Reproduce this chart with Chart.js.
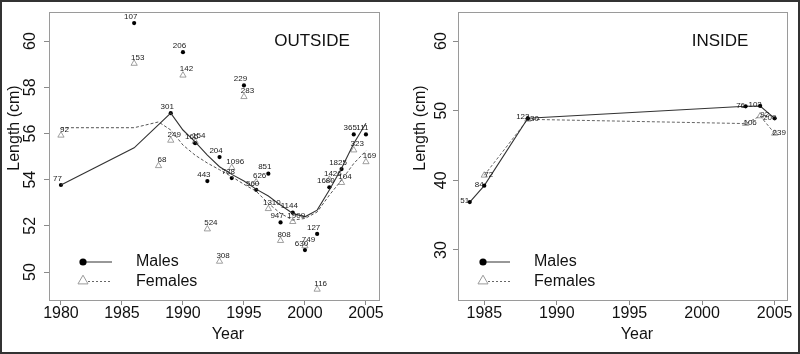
<!DOCTYPE html>
<html><head><meta charset="utf-8">
<script src="https://cdn.jsdelivr.net/npm/chart.js@4.4.0/dist/chart.umd.min.js"></script>
<style>
html,body{margin:0;padding:0;background:#fff;}
#wrap{position:relative;width:800px;height:354px;overflow:hidden;background:#fff;}
#frame{position:absolute;left:0;top:0;width:796px;height:350px;border:2px solid #333;pointer-events:none;}
canvas{position:absolute;top:0;}
</style></head><body>
<div id="wrap">
<canvas id="c1" width="400" height="354" style="left:0;width:400px;height:354px"></canvas>
<canvas id="c2" width="400" height="354" style="left:400px;width:400px;height:354px"></canvas>
<div id="frame"></div>
</div>
<script>
// ---------- OUTSIDE panel data ----------
const outMaleYears = [1980,1986,1989,1990,1991,1992,1993,1994,1995,1996,1997,1998,1999,2000,2001,2002,2003,2004,2005];
const outMaleLen   = [53.77,60.78,56.88,59.52,55.58,53.94,54.98,54.07,58.08,53.56,54.26,52.15,52.57,50.95,51.65,53.67,54.46,55.96,55.96];
const outMaleN     = ['77','107','301','206','165','443','204','788','229','560','851','947','1144','630','127','1680','1825','365','111'];

const outFemYears  = [1980,1986,1988,1989,1990,1991,1992,1993,1994,1995,1996,1997,1998,1999,2000,2001,2002,2003,2004,2005];
const outFemLen    = [55.92,59.03,54.60,55.70,58.52,55.65,51.86,50.46,54.52,57.59,53.90,52.74,51.36,52.18,51.13,49.25,54.01,53.87,55.28,54.77];
const outFemN      = ['92','153','68','249','142','154','524','308','1096','283','626','1310','808','1909','749','116','1426','104','323','169'];

const outMaleFitYears = [1980,1986,1989,1990,1991,1992,1993,1994,1995,1996,1997,1998,1999,2000,2001,2002,2003,2004,2005];
const outMaleFit      = [53.77,55.38,56.88,56.15,55.64,55.06,54.56,54.23,53.94,53.59,53.29,52.90,52.54,52.39,52.68,53.55,54.49,55.57,56.44];
const outFemFitYears  = [1980,1986,1988,1989,1990,1991,1992,1993,1994,1995,1996,1997,1998,1999,2000,2001,2002,2003,2004,2005];
const outFemFit       = [56.25,56.25,56.50,56.15,55.50,55.06,54.72,54.43,54.13,53.80,53.50,52.97,52.54,52.25,52.32,52.60,53.33,53.98,54.70,55.25];

const outXTicks = [1980,1985,1990,1995,2000,2005];
const outYTicks = [50,52,54,56,58,60];

// ---------- INSIDE panel data ----------
const inMaleYears = [1984,1985,1988,2003,2004,2005];
const inMaleLen   = [36.88,39.24,48.91,50.63,50.68,48.90];
const inMaleN     = ['51','84','122','76','102','209'];
const inFemYears  = [1985,1988,2003,2004,2005];
const inFemLen    = [40.72,48.76,48.15,49.24,46.74];
const inFemN      = ['72','130','106','92','239'];

const inXTicks = [1985,1990,1995,2000,2005];
const inYTicks = [30,40,50,60];

const seriesNames = ['Males','Females'];
const axisTitles = {x:'Year', y:'Length (cm)'};

const FONT = "'Liberation Sans', Arial, sans-serif";
const pts = (xs, ys) => xs.map((x,i)=>({x:x, y:ys[i]}));

function panelPlugin(p){
  return {
    id:'panel'+p.key,
    afterDatasetsDraw(chart){
      const ctx = chart.ctx;
      chart.data.datasets.forEach((ds, di)=>{
        if(!ds.pointLabels) return;
        const meta = chart.getDatasetMeta(di);
        ctx.save();
        ctx.font = '8px ' + FONT;
        ctx.fillStyle = '#1a1a1a';
        ctx.textAlign = 'center';
        ctx.textBaseline = 'middle';
        meta.data.forEach((el, j)=>{
          ctx.fillText(ds.pointLabels[j], el.x + ds.labelDx, el.y + ds.labelDy);
        });
        ctx.restore();
      });
    },
    afterDraw(chart){
      const ctx = chart.ctx, a = chart.chartArea, xs = chart.scales.x, ys = chart.scales.y;
      ctx.save();
      ctx.strokeStyle = '#9a9a9a'; ctx.lineWidth = 1;
      ctx.strokeRect(Math.round(a.left)+0.5, Math.round(a.top)+0.5, Math.round(a.right-a.left), Math.round(a.bottom-a.top));
      ctx.fillStyle = '#111';
      ctx.font = '16px ' + FONT;
      ctx.textAlign = 'center'; ctx.textBaseline = 'middle';
      p.xTicks.forEach(v=>{ ctx.fillText(String(v), xs.getPixelForValue(v), 314); });
      p.yTicks.forEach(v=>{
        ctx.save();
        ctx.translate(p.yLabelX, ys.getPixelForValue(v));
        ctx.rotate(-Math.PI/2);
        ctx.fillText(String(v), 0, 0);
        ctx.restore();
      });
      ctx.fillText(axisTitles.x, p.xTitleX, 335);
      ctx.save();
      ctx.translate(p.yTitleX, 128);
      ctx.rotate(-Math.PI/2);
      ctx.fillText(axisTitles.y, 0, 0);
      ctx.restore();
      ctx.font = '17px ' + FONT;
      ctx.fillText(p.title, p.titleX, 41);
      // legend
      ctx.strokeStyle = '#444'; ctx.lineWidth = 1.1; ctx.setLineDash([]);
      ctx.beginPath(); ctx.moveTo(p.legX+2, 262); ctx.lineTo(p.legLineEnd, 262); ctx.stroke();
      ctx.fillStyle = '#000';
      ctx.beginPath(); ctx.arc(p.legX, 262, 3.6, 0, Math.PI*2); ctx.fill();
      ctx.strokeStyle = '#666'; ctx.lineWidth = 1; ctx.setLineDash([2,2]);
      ctx.beginPath(); ctx.moveTo(p.legX+5, 281.5); ctx.lineTo(p.legLineEnd, 281.5); ctx.stroke();
      ctx.setLineDash([]);
      ctx.strokeStyle = '#999';
      const r = 5.8, cx = p.legX, cy = 281;
      ctx.beginPath();
      ctx.moveTo(cx, cy - r);
      ctx.lineTo(cx + r*0.866, cy + r*0.5);
      ctx.lineTo(cx - r*0.866, cy + r*0.5);
      ctx.closePath(); ctx.stroke();
      ctx.fillStyle = '#111';
      ctx.font = '16px ' + FONT; ctx.textAlign = 'left';
      ctx.fillText(seriesNames[0], p.legTextX, 262);
      ctx.fillText(seriesNames[1], p.legTextX, 282);
      ctx.restore();
    }
  };
}

function scalesFor(p){
  const grid = {drawOnChartArea:false, drawTicks:true, tickLength:5, color:'#8a8a8a'};
  return {
    x:{type:'linear', min:p.xMin, max:p.xMax,
       afterBuildTicks:s=>{ s.ticks = p.xTicks.map(v=>({value:v})); },
       ticks:{display:false}, grid:grid, border:{display:true, color:'#9a9a9a'},
       afterFit:s=>{ s.height = 54; }},
    y:{type:'linear', min:p.yMin, max:p.yMax,
       afterBuildTicks:s=>{ s.ticks = p.yTicks.map(v=>({value:v})); },
       ticks:{display:false}, grid:grid, border:{display:true, color:'#9a9a9a'},
       afterFit:s=>{ s.width = p.yAxisW; }}
  };
}

const baseOpts = (p)=>({
  responsive:false, animation:false, devicePixelRatio:1,
  layout:{padding:{top:12, right:p.padRight, left:0, bottom:0}},
  plugins:{legend:{display:false}, tooltip:{enabled:false}},
  scales:scalesFor(p)
});

const pOut = {key:'out', xMin:1979.02, xMax:2006.07, yMin:48.79, yMax:61.26,
  xTicks:outXTicks, yTicks:outYTicks, yAxisW:49, padRight:21,
  yLabelX:31, yTitleX:15, xTitleX:228, title:'OUTSIDE', titleX:312,
  legX:83, legLineEnd:112, legTextX:136};
new Chart(document.getElementById('c1'), {
  type:'scatter',
  data:{datasets:[
    {data:pts(outMaleFitYears,outMaleFit), showLine:true, pointRadius:0, borderColor:'#333', borderWidth:1.1, fill:false},
    {data:pts(outFemFitYears,outFemFit), showLine:true, pointRadius:0, borderColor:'#555', borderWidth:1, borderDash:[3,2], fill:false},
    {data:pts(outMaleYears,outMaleLen), pointStyle:'circle', pointRadius:2.1, backgroundColor:'#000', borderWidth:0,
     pointLabels:outMaleN, labelDx:-3.5, labelDy:-6.5},
    {data:pts(outFemYears,outFemLen), pointStyle:'triangle', pointRadius:3.6, backgroundColor:'rgba(255,255,255,0)', borderColor:'#888', borderWidth:0.8,
     pointLabels:outFemN, labelDx:3.5, labelDy:-6}
  ]},
  options:baseOpts(pOut),
  plugins:[panelPlugin(pOut)]
});

const pIn = {key:'in', xMin:1983.19, xMax:2005.85, yMin:22.82, yMax:64.17,
  xTicks:inXTicks, yTicks:inYTicks, yAxisW:58, padRight:13,
  yLabelX:42, yTitleX:21, xTitleX:237, title:'INSIDE', titleX:320,
  legX:83, legLineEnd:110, legTextX:134};
new Chart(document.getElementById('c2'), {
  type:'scatter',
  data:{datasets:[
    {data:pts(inMaleYears,inMaleLen), showLine:true, pointStyle:'circle', pointRadius:2.1, backgroundColor:'#000', borderColor:'#333', borderWidth:1.1,
     pointBorderWidth:0, pointLabels:inMaleN, labelDx:-5, labelDy:-1},
    {data:pts(inFemYears,inFemLen), showLine:true, pointStyle:'triangle', pointRadius:3.6, backgroundColor:'rgba(255,255,255,0)', borderColor:'#666', borderWidth:1, borderDash:[3,2],
     pointBorderColor:'#888', pointBorderWidth:0.8, pointLabels:inFemN, labelDx:4.5, labelDy:-1}
  ]},
  options:baseOpts(pIn),
  plugins:[panelPlugin(pIn)]
});
</script>
</body></html>
